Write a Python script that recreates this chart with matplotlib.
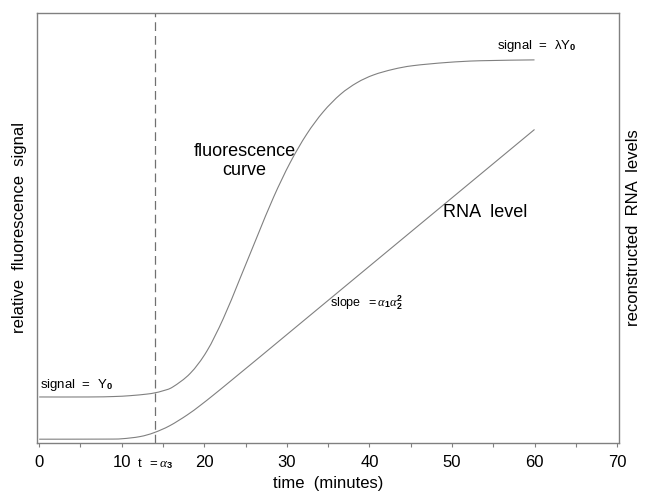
import matplotlib
matplotlib.use("Agg")
import matplotlib.pyplot as plt
from matplotlib.path import Path
from matplotlib.patches import PathPatch

plt.rcParams['font.family'] = ['Liberation Sans', 'DejaVu Sans']
plt.rcParams['mathtext.fontset'] = 'custom'
plt.rcParams['mathtext.rm'] = 'Liberation Sans'
plt.rcParams['mathtext.it'] = 'Liberation Serif:italic'
plt.rcParams['mathtext.bf'] = 'Liberation Sans:bold'

# Data (time in minutes, signal in relative units)
fluor_t = [0, 6, 9, 11, 13, 14, 15, 16.2, 18.3, 20.3, 22.3, 24.3, 26.4, 28.4,
           30.4, 32.4, 34.4, 36.5, 38.5, 40.5, 42.9, 45.3, 49.4, 53.4, 60]
fluor_y = [0.107, 0.107, 0.108, 0.110, 0.1136, 0.1166, 0.1214, 0.1305, 0.1620,
           0.2133, 0.2893, 0.3813, 0.480, 0.572, 0.652, 0.718, 0.770, 0.811,
           0.838, 0.856, 0.8692, 0.8776, 0.885, 0.889, 0.891]

rna_t = [0, 8, 10, 12.2, 13.9, 15.8, 17.9, 19.5, 21.1, 22.7, 24.4, 26.75, 30,
         35, 40, 45, 50, 55, 60]
rna_y = [0.0088, 0.009, 0.0098, 0.0148, 0.0239, 0.040, 0.0648, 0.0872, 0.1114,
         0.1364, 0.1633, 0.2004, 0.2521, 0.3316, 0.4111, 0.4906, 0.5701,
         0.6496, 0.7291]

alpha3 = 14
x_major = [0, 10, 20, 30, 40, 50, 60, 70]
x_minor = [5, 15, 25, 35, 45, 55, 65]


def smooth_path(xs, ys):
    """Catmull-Rom spline through the read points, as cubic Bezier path."""
    pts = list(zip(xs, ys))
    n = len(pts)
    verts = [pts[0]]
    codes = [Path.MOVETO]
    for i in range(n - 1):
        p0 = pts[i - 1] if i > 0 else pts[i]
        p1 = pts[i]
        p2 = pts[i + 1]
        p3 = pts[i + 2] if i + 2 < n else pts[i + 1]
        c1 = (p1[0] + (p2[0] - p0[0]) / 6, p1[1] + (p2[1] - p0[1]) / 6)
        c2 = (p2[0] - (p3[0] - p1[0]) / 6, p2[1] - (p3[1] - p1[1]) / 6)
        verts += [c1, c2, p2]
        codes += [Path.CURVE4] * 3
    return Path(verts, codes)


fig = plt.figure(figsize=(6.51, 4.97), dpi=100)
ax = fig.add_axes([0.0564, 0.1087, 0.8940, 0.8651])

curve_col = '#808080'
for xs, ys in ((fluor_t, fluor_y), (rna_t, rna_y)):
    ax.add_patch(PathPatch(smooth_path(xs, ys), fill=False, edgecolor=curve_col,
                           lw=0.8, transform=ax.transData))
ax.axvline(alpha3, color='#707070', lw=0.9, ls=(0, (7, 4)))

ax.set_xlim(-0.3, 70.2)
ax.set_ylim(0, 1)
ax.set_xticks(x_major)
ax.set_xticks(x_minor, minor=True)
ax.set_yticks([])
ax.tick_params(axis='x', which='both', direction='out', length=3, width=0.8,
               color='#808080', labelsize=12, pad=6)
for s in ax.spines.values():
    s.set_color('#808080')
    s.set_linewidth(1.0)

ax.set_xlabel('time  (minutes)', fontsize=12, labelpad=4)
ax.set_ylabel('relative  fluorescence  signal', fontsize=12, labelpad=7)
ax2 = ax.twinx()
ax2.set_yticks([])
ax2.set_ylabel('reconstructed  RNA  levels', fontsize=12, labelpad=5)
for s in ax2.spines.values():
    s.set_visible(False)

ax.text(0.1, 0.135, 'signal  =  Y$_{\\mathbf{0}}$', fontsize=9.5, va='center', ha='left')
ax.text(60.3, 0.923, 'signal  =  λY$_{\\mathbf{0}}$', fontsize=9.5, va='center', ha='center')
ax.text(24.9, 0.656, 'fluorescence\ncurve', fontsize=13, ha='center', va='center', linespacing=1.15)
ax.text(54.0, 0.536, 'RNA  level', fontsize=13, ha='center', va='center')
ax.text(35.2, 0.326, r'slope  $=\alpha_{\mathbf{1}}\alpha_{\mathbf{2}}^{\mathbf{2}}$', fontsize=9, ha='left', va='center')
ax.text(14.0, -0.03, r't  $=\alpha_{\mathbf{3}}$', fontsize=9.5, ha='center', va='top')

fig.savefig('out.png', dpi=100)
